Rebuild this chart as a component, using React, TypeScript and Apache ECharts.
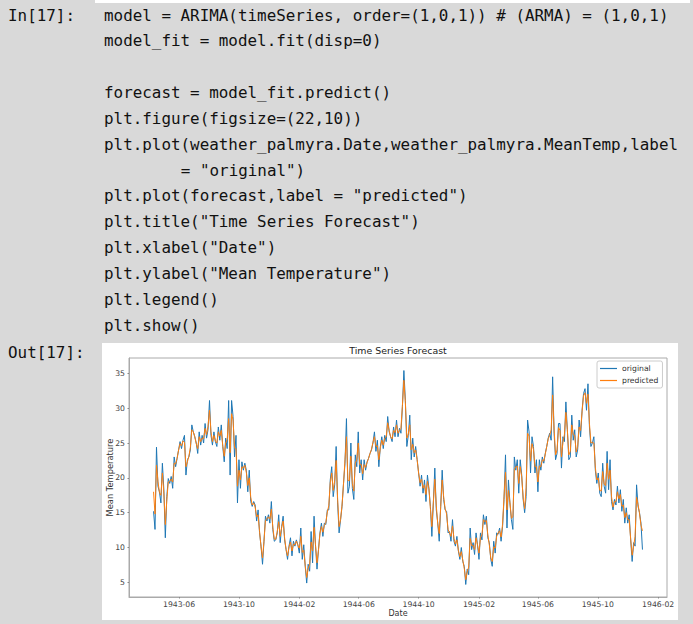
import React, { useEffect, useRef } from "react";
import * as echarts from "echarts";

// ---- data (one sample every 3 days) ----
const startDate = "1943-04-10";
const stepDays = 3;
const xRange = ["1943-02-19", "1946-02-19"];
const yRange = [2.9, 37.2];
const xTickLabels = ["1943-06", "1943-10", "1944-02", "1944-06", "1944-10", "1945-02", "1945-06", "1945-10", "1946-02"];
const yTickValues = [5, 10, 15, 20, 25, 30, 35];
const seriesNames = ["original", "predicted"];

const originalPart1 = [
  15.2, 12.6, 24.4, 18.8, 18.0, 16.4, 22.1, 18.3, 11.4,
  17.3, 19.9, 19.2, 20.2, 18.5, 23.0, 21.6, 22.8, 24.0,
  25.2, 24.2, 25.4, 26.1, 20.4, 22.6, 23.0, 24.0, 27.6,
  26.6, 25.9, 25.0, 23.5, 26.6, 24.7, 26.1, 25.0, 27.8,
  25.7, 26.9, 31.1, 26.1, 24.7, 26.6, 25.2, 24.5, 27.3,
  25.4, 27.6, 24.5, 22.3, 25.7, 24.2, 31.1, 20.4, 31.1,
  28.8, 23.0, 26.1, 16.4, 22.6, 18.5, 22.3, 21.1, 22.1,
  21.1, 18.0, 21.1, 16.6, 15.9, 16.6, 16.1, 13.8, 15.4,
  12.1, 10.2, 7.6, 10.9, 14.5, 13.8, 14.7, 13.5, 16.6,
  12.6, 10.9,
];
const originalPart2 = [
  11.1, 12.1, 14.7, 10.7, 13.0, 14.5, 11.1, 9.7, 8.3,
  10.2, 11.4, 8.8, 10.9, 10.2, 11.1, 10.4, 9.2, 12.8,
  8.3, 10.4, 7.3, 4.9, 7.6, 6.6, 12.3, 7.8, 14.5,
  10.2, 6.9, 9.7, 12.1, 13.5, 11.6, 13.5, 13.3, 15.4,
  15.4, 19.7, 21.6, 17.3, 19.0, 24.5, 16.4, 12.1, 14.0,
  15.9, 19.2, 22.1, 28.5, 17.8, 18.8, 25.0, 18.5, 16.9,
  23.3, 21.6, 26.6, 20.7, 22.6, 19.7, 22.6, 21.1, 22.3,
  22.8, 23.5, 24.0, 25.0, 26.6, 23.8, 25.4, 21.6, 24.5,
  25.9, 24.2, 26.1, 25.2, 28.8, 26.6, 25.9, 25.2, 27.3,
  25.9, 28.3, 25.9, 27.1,
];
const originalPart3 = [
  26.4, 30.2, 35.4, 31.1, 24.5, 26.1, 29.0, 22.6, 25.7,
  23.0, 24.5, 22.6, 20.7, 18.8, 20.4, 17.8, 19.7, 16.6, 20.4,
  18.5, 15.9, 11.6, 16.4, 21.4, 15.4,
  13.5, 10.9,
  15.9, 21.1, 16.9, 15.4, 15.2, 12.1, 12.3, 10.9, 14.0,
  10.9, 10.2, 11.6, 9.5, 8.3, 10.0, 8.0, 7.3,
  4.7, 6.9, 6.1, 12.8, 9.7, 10.7, 9.0, 12.1, 10.4, 8.3,
  12.1, 11.1, 14.7, 13.3, 14.5, 11.4, 10.7, 8.3,
  7.3, 10.9, 9.2, 12.1, 11.9, 12.8, 10.9, 13.0, 16.9, 23.3,
  12.8, 19.7, 16.4, 14.0, 12.6, 23.0, 21.1, 22.6, 17.8,
  22.6, 20.4, 16.9, 15.0,
];
const originalPart4 = [
  17.3, 28.3, 26.6, 20.7, 25.9, 24.5, 20.7, 22.6,
  18.0, 22.6, 21.1, 23.0, 22.1, 23.5, 24.5,
  25.7, 26.4, 25.4, 34.5, 26.4, 22.6, 23.5, 27.8,
  27.8, 21.4, 25.9, 25.2, 30.9, 26.9, 22.6,
  23.0, 29.0, 25.4, 26.9, 23.0, 24.0, 28.3, 25.9, 29.7, 32.1, 32.8, 29.7, 33.5, 27.3, 24.5,
  25.0, 25.9, 21.1,
  19.2, 20.7, 17.8, 17.3, 22.1, 18.8, 17.8, 23.8, 18.3,
  22.6, 16.6, 15.4, 16.9, 16.1, 18.8, 16.4, 18.3, 15.2, 16.9, 13.5, 15.7,
  13.5, 14.7, 11.1, 8.0, 10.7, 10.2, 19.0, 15.9,
  15.0, 13.5, 9.7,
];

const predictedPart1 = [
  18.0, 14.8, 21.8, 19.5, 17.9, 17.5, 20.7, 17.8, 13.3,
  16.8, 19.4, 19.5, 19.8, 19.4, 22.1, 22.0, 22.8, 24.0,
  24.9, 24.6, 25.3, 25.1, 21.6, 22.3, 23.1, 24.4, 26.9,
  26.6, 25.9, 24.9, 24.2, 25.9, 25.2, 25.7, 25.6, 27.1,
  26.2, 27.4, 29.7, 26.6, 25.2, 26.1, 25.3, 25.0, 26.6,
  26.0, 26.8, 24.6, 23.1, 25.0, 25.5, 28.5, 23.6, 29.2,
  28.3, 24.3, 24.2, 18.8, 21.1, 19.7, 21.6, 21.4, 21.8,
  20.8, 18.9, 20.0, 17.2, 16.1, 16.4, 15.8, 14.4, 14.7,
  12.3, 10.1, 8.5, 10.9, 13.9, 14.1, 14.4, 14.1, 15.5,
  12.9, 11.2,
];
const predictedPart2 = [
  11.2, 12.3, 13.7, 11.6, 12.9, 13.8, 11.4, 9.7, 8.8,
  10.1, 10.8, 9.5, 10.5, 10.4, 10.9, 10.3, 9.9, 11.6,
  9.3, 9.6, 7.4, 5.7, 7.0, 7.6, 10.8, 9.5, 12.9,
  10.3, 7.8, 9.6, 12.0, 13.0, 12.2, 13.2, 13.6, 15.1,
  16.0, 19.3, 20.7, 18.2, 19.6, 22.5, 17.0, 13.0, 14.0,
  16.1, 19.1, 22.6, 25.9, 19.6, 19.6, 23.1, 19.2, 18.1,
  22.1, 22.6, 25.0, 21.9, 21.9, 20.6, 21.9, 21.5, 22.2,
  22.8, 23.5, 24.1, 25.1, 25.9, 24.5, 24.6, 22.6, 24.3,
  25.4, 24.7, 25.7, 25.9, 27.9, 26.8, 25.9, 25.6, 26.8,
  26.5, 27.6, 26.4, 26.8,
];
const predictedPart3 = [
  27.1, 30.4, 34.0, 30.8, 25.7, 26.3, 27.6, 24.0, 24.8,
  23.6, 24.0, 22.6, 20.7, 19.3, 19.8, 18.5, 19.0, 17.6, 19.5,
  18.4, 15.6, 13.0, 16.4, 19.8, 16.0,
  13.4, 12.0,
  15.9, 19.7, 17.3, 15.6, 14.8, 12.6, 12.1, 11.6, 13.1,
  11.3, 10.5, 11.1, 9.6, 8.7, 9.4, 8.2, 7.0,
  5.4, 6.5, 7.2, 11.3, 10.3, 10.3, 9.7, 11.4, 10.3, 9.2,
  11.4, 11.8, 14.0, 13.7, 13.9, 11.8, 10.4, 8.5,
  8.0, 10.1, 9.9, 11.6, 12.1, 12.4, 11.5, 13.3, 17.3, 20.8,
  15.4, 18.2, 16.5, 14.2, 14.4, 21.2, 21.6, 21.7, 19.2,
  21.6, 20.2, 17.1, 15.6,
];
const predictedPart4 = [
  18.6, 26.4, 26.0, 22.4, 24.9, 24.1, 21.6, 21.6,
  19.4, 21.7, 21.6, 22.6, 22.4, 23.4, 24.5,
  25.6, 26.1, 26.9, 31.9, 27.0, 23.3, 24.0, 27.2,
  26.8, 23.0, 25.1, 26.2, 29.4, 26.9, 23.3,
  23.8, 27.6, 26.2, 26.1, 23.7, 24.5, 27.3, 26.8, 29.5, 31.8, 32.2, 30.7, 32.0, 27.8, 25.0,
  25.1, 25.0, 21.5,
  19.7, 20.0, 18.2, 18.1, 20.9, 19.1, 18.9, 22.1, 19.8,
  21.1, 17.3, 15.8, 16.6, 16.6, 18.0, 17.0, 17.6, 15.9, 16.1, 14.3, 15.0,
  14.0, 14.0, 11.2, 8.9, 10.2, 11.6, 17.2, 16.2,
  14.9, 13.2, 12.4,
];

// ---- notebook cell text ----
const inPrompt = "In[17]:";
const outPrompt = "Out[17]:";
const codeLines = [
  "model = ARIMA(timeSeries, order=(1,0,1)) # (ARMA) = (1,0,1)",
  "model_fit = model.fit(disp=0)",
  "",
  "forecast = model_fit.predict()",
  "plt.figure(figsize=(22,10))",
  "plt.plot(weather_palmyra.Date,weather_palmyra.MeanTemp,label",
  "        = \"original\")",
  "plt.plot(forecast,label = \"predicted\")",
  "plt.title(\"Time Series Forecast\")",
  "plt.xlabel(\"Date\")",
  "plt.ylabel(\"Mean Temperature\")",
  "plt.legend()",
  "plt.show()",
];
const chartTitle = "Time Series Forecast";
const xName = "Date";
const yName = "Mean Temperature";

const DAY = 86400000;
const parseDay = (s: string) => {
  const [y, m, d] = s.split("-").map(Number);
  return Date.UTC(y, m - 1, d || 1);
};

export default function App() {
  const ref = useRef<HTMLDivElement>(null);

  useEffect(() => {
    if (!ref.current) return;
    const chart = echarts.init(ref.current, undefined, { renderer: "svg" });

    const t0 = parseDay(startDate);
    const original = [...originalPart1, ...originalPart2, ...originalPart3, ...originalPart4];
    const predicted = [...predictedPart1, ...predictedPart2, ...predictedPart3, ...predictedPart4];
    const toPairs = (arr: number[]) => arr.map((v, i) => [t0 + i * stepDays * DAY, v]);
    const xTicks = xTickLabels.map(parseDay);

    const mono = "'DejaVu Sans Mono', 'Liberation Mono', monospace";
    const sans = "'DejaVu Sans', sans-serif";
    const codeFill = "#111";
    const codeSize = 15.9;
    const charW = 9.6;
    const lineH = 25.85;

    const codeGraphics = codeLines
      .map((line, i) => {
        if (!line.trim()) return null;
        const indent = line.length - line.trimStart().length;
        return {
          type: "text",
          x: 104 + indent * charW,
          y: 15 + i * lineH,
          silent: true,
          style: {
            text: line.trimStart(),
            fontFamily: mono,
            fontSize: codeSize,
            fill: codeFill,
            verticalAlign: "middle",
          },
        };
      })
      .filter(Boolean);

    const axisGray = "#aaaaaa";
    const labelColor = "#444";

    chart.setOption({
      animation: false,
      backgroundColor: "#d9d9d9",
      textStyle: { fontFamily: sans },
      title: {
        text: chartTitle,
        left: 398,
        top: 346,
        textAlign: "center",
        padding: 0,
        textStyle: { fontSize: 9.4, fontWeight: "normal", color: "#222", fontFamily: sans },
      },
      legend: {
        data: seriesNames,
        orient: "vertical",
        left: 597,
        top: 361,
        padding: [3, 4, 3, 3],
        itemGap: 3,
        itemWidth: 17,
        itemHeight: 1.2,
        icon: "rect",
        backgroundColor: "#fff",
        borderColor: "#cccccc",
        borderWidth: 1,
        borderRadius: 2,
        textStyle: { fontSize: 7.7, color: "#333", fontFamily: sans, lineHeight: 9 },
        selectedMode: false,
      },
      grid: {
        left: 129,
        top: 358,
        right: 26,
        bottom: 27,
        show: true,
        backgroundColor: "#fff",
        borderColor: axisGray,
        borderWidth: 1,
      },
      xAxis: {
        type: "value",
        min: parseDay(xRange[0]),
        max: parseDay(xRange[1]),
        name: xName,
        nameLocation: "middle",
        nameGap: 12.5,
        nameMoveOverlap: false,
        nameTextStyle: { fontSize: 8, color: "#333", fontFamily: sans },
        axisLine: { show: true, onZero: false, lineStyle: { color: axisGray, width: 1 } },
        axisTick: { show: true, length: 1.5, customValues: xTicks, lineStyle: { color: "#888" } },
        axisLabel: {
          customValues: xTicks,
          margin: 3,
          fontSize: 7.7,
          color: labelColor,
          fontFamily: sans,
          formatter: (v: number) => {
            const d = new Date(v);
            return `${d.getUTCFullYear()}-${String(d.getUTCMonth() + 1).padStart(2, "0")}`;
          },
        },
        splitLine: { show: false },
      },
      yAxis: {
        type: "value",
        min: yRange[0],
        max: yRange[1],
        name: yName,
        nameLocation: "middle",
        nameGap: 15,
        nameMoveOverlap: false,
        nameTextStyle: { fontSize: 8.3, color: "#333", fontFamily: sans },
        axisLine: { show: true, onZero: false, lineStyle: { color: axisGray, width: 1 } },
        axisTick: { show: true, length: 1.5, customValues: yTickValues, lineStyle: { color: "#888" } },
        axisLabel: {
          customValues: yTickValues,
          margin: 4,
          fontSize: 7.7,
          color: labelColor,
          fontFamily: sans,
        },
        splitLine: { show: false },
      },
      graphic: [
        {
          type: "rect",
          z: -10,
          silent: true,
          shape: { x: 95, y: 0, width: 595, height: 3 },
          style: { fill: "#ffffff" },
        },
        {
          type: "rect",
          z: -10,
          silent: true,
          shape: { x: 102, y: 343, width: 576, height: 277 },
          style: { fill: "#ffffff" },
        },
        {
          type: "text",
          x: 8,
          y: 15,
          silent: true,
          style: { text: inPrompt, fontFamily: mono, fontSize: codeSize, fill: codeFill, verticalAlign: "middle" },
        },
        {
          type: "text",
          x: 8,
          y: 352,
          silent: true,
          style: { text: outPrompt, fontFamily: mono, fontSize: codeSize, fill: codeFill, verticalAlign: "middle" },
        },
        ...codeGraphics,
      ],
      series: [
        {
          name: seriesNames[0],
          type: "line",
          data: toPairs(original),
          symbol: "none",
          color: "#1f77b4",
          lineStyle: { width: 1, color: "#1f77b4" },
          silent: true,
        },
        {
          name: seriesNames[1],
          type: "line",
          data: toPairs(predicted),
          symbol: "none",
          color: "#ff7f0e",
          lineStyle: { width: 1, color: "#ff7f0e" },
          silent: true,
        },
      ],
    });

    return () => chart.dispose();
  }, []);

  return (
    <div
      ref={ref}
      style={{ position: "fixed", left: 0, top: 0, width: 693, height: 624 }}
    />
  );
}
